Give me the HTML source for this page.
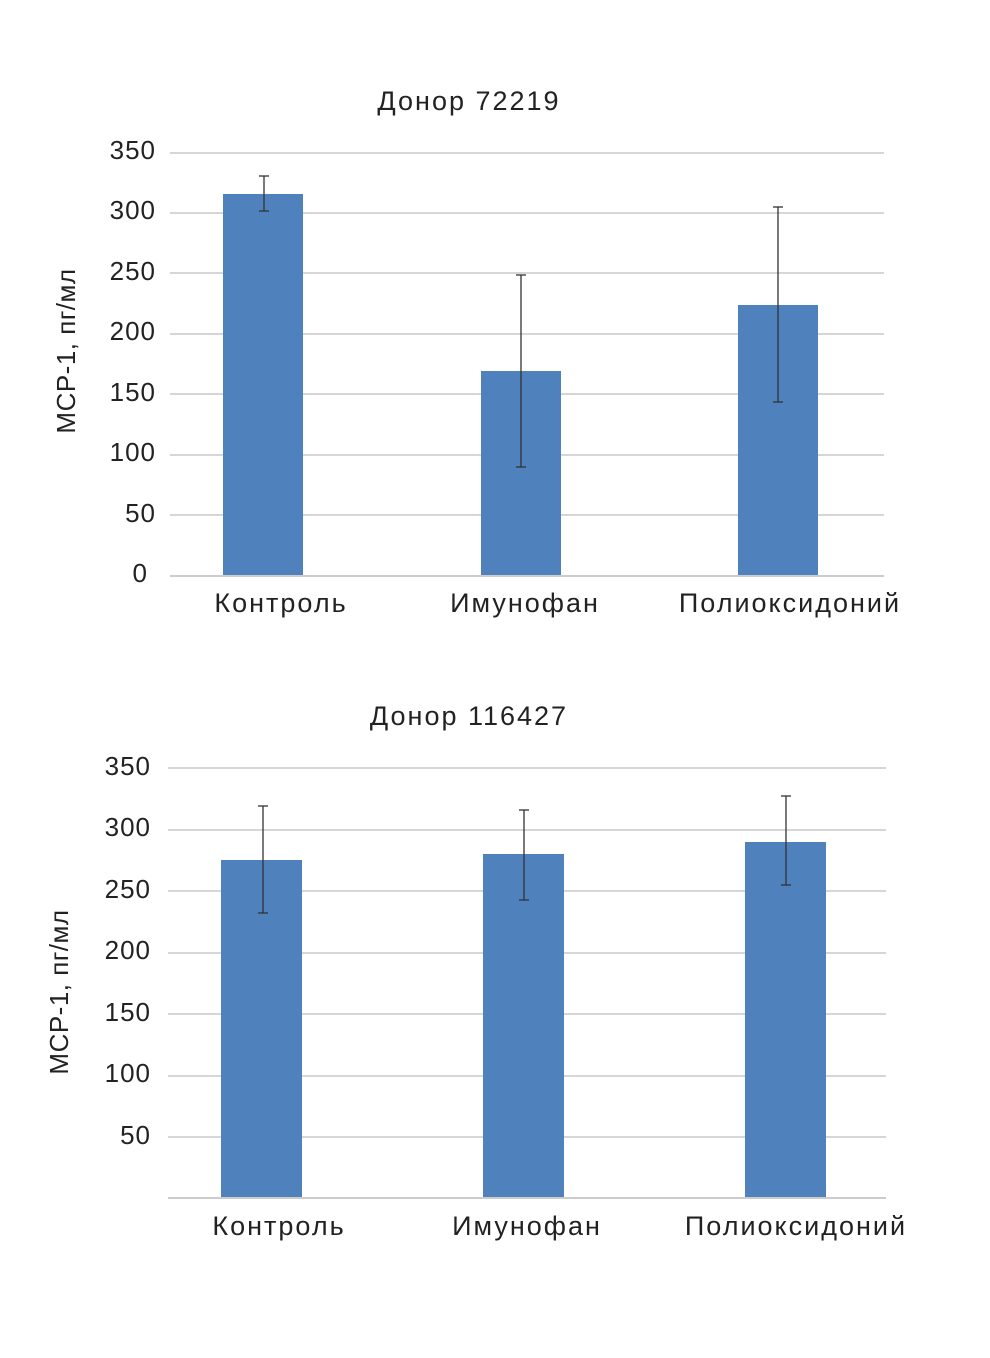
<!DOCTYPE html>
<html><head><meta charset="utf-8"><style>
body{margin:0;background:#fff}
svg text{font-family:"Liberation Sans",sans-serif;fill:#222}
</style></head><body>
<svg width="990" height="1353" xmlns="http://www.w3.org/2000/svg">
<g stroke="#c8c8c8" stroke-width="1.5">
<line x1="170" x2="884" y1="153" y2="153"/><line x1="170" x2="884" y1="213" y2="213"/>
<line x1="170" x2="884" y1="273" y2="273"/><line x1="170" x2="884" y1="334" y2="334"/>
<line x1="170" x2="884" y1="394" y2="394"/><line x1="170" x2="884" y1="455" y2="455"/>
<line x1="170" x2="884" y1="515" y2="515"/><line x1="170" x2="884" y1="576" y2="576" stroke="#bbb"/>
<line x1="168" x2="886" y1="768" y2="768"/><line x1="168" x2="886" y1="830" y2="830"/>
<line x1="168" x2="886" y1="891" y2="891"/><line x1="168" x2="886" y1="953" y2="953"/>
<line x1="168" x2="886" y1="1014" y2="1014"/><line x1="168" x2="886" y1="1076" y2="1076"/>
<line x1="168" x2="886" y1="1137" y2="1137"/><line x1="168" x2="886" y1="1198" y2="1198" stroke="#bbb"/>
</g>
<g fill="#4f81bd">
<rect x="223" y="194" width="80" height="381"/><rect x="481" y="371" width="80" height="204"/><rect x="738" y="305" width="80" height="270"/>
<rect x="221" y="860" width="81" height="337"/><rect x="483" y="854" width="81" height="343"/><rect x="745" y="842" width="81" height="355"/>
</g>
<g stroke="#333" stroke-width="1.3">
<line x1="264" x2="264" y1="176" y2="211"/><line x1="259" x2="269" y1="176" y2="176"/><line x1="259" x2="269" y1="211" y2="211"/>
<line x1="521" x2="521" y1="275" y2="467"/><line x1="516" x2="526" y1="275" y2="275"/><line x1="516" x2="526" y1="467" y2="467"/>
<line x1="778" x2="778" y1="207" y2="402"/><line x1="773" x2="783" y1="207" y2="207"/><line x1="773" x2="783" y1="402" y2="402"/>
<line x1="263" x2="263" y1="806" y2="913"/><line x1="258" x2="268" y1="806" y2="806"/><line x1="258" x2="268" y1="913" y2="913"/>
<line x1="524" x2="524" y1="810" y2="900"/><line x1="519" x2="529" y1="810" y2="810"/><line x1="519" x2="529" y1="900" y2="900"/>
<line x1="786" x2="786" y1="796" y2="885"/><line x1="781" x2="791" y1="796" y2="796"/><line x1="781" x2="791" y1="885" y2="885"/>
</g>
<g font-size="26" text-anchor="end" letter-spacing="1">
<text x="156" y="159">350</text><text x="156" y="219">300</text><text x="156" y="280">250</text><text x="156" y="340">200</text>
<text x="156" y="401">150</text><text x="156" y="461">100</text><text x="156" y="522">50</text><text x="148" y="582">0</text>
<text x="151" y="775">350</text><text x="151" y="836">300</text><text x="151" y="898">250</text><text x="151" y="959">200</text>
<text x="151" y="1021">150</text><text x="151" y="1082">100</text><text x="151" y="1144">50</text>
</g>
<g font-size="27" text-anchor="middle" letter-spacing="2">
<text x="469" y="110">Донор 72219</text>
<text x="281" y="612">Контроль</text><text x="525" y="612">Имунофан</text><text x="790" y="612">Полиоксидоний</text>
<text x="469" y="725">Донор 116427</text>
<text x="279" y="1235">Контроль</text><text x="527" y="1235">Имунофан</text><text x="796" y="1235">Полиоксидоний</text>
</g>
<g font-size="26" text-anchor="middle" letter-spacing="0.5">
<text transform="translate(75,351) rotate(-90)">МСР-1, пг/мл</text>
<text transform="translate(68,992) rotate(-90)">МСР-1, пг/мл</text>
</g>
</svg>
</body></html>
